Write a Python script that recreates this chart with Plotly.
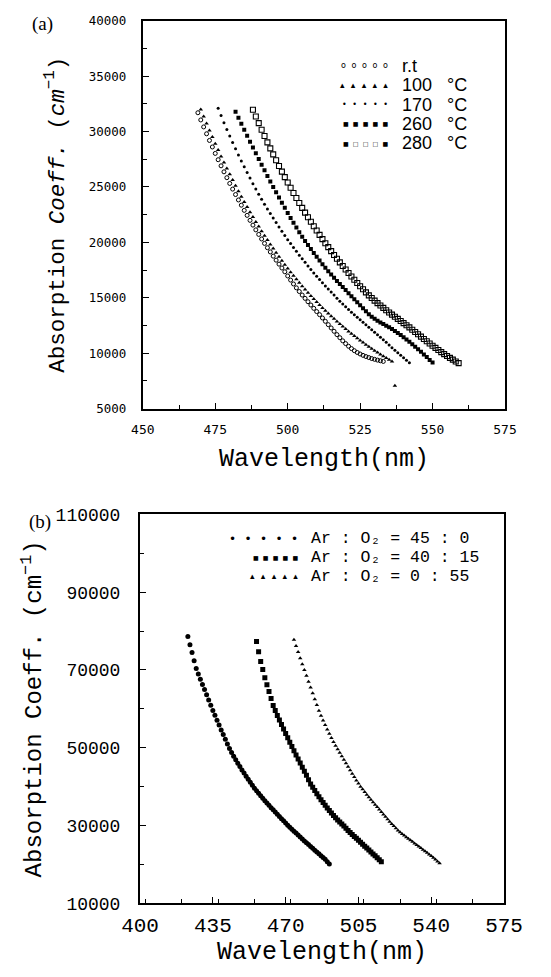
import plotly.graph_objects as go

# ---------------- Panel (a): annealing temperature ----------------
rt_x = list(range(469, 534))
rt_y = [31700, 31050, 30420, 29800, 29200, 28610, 28030, 27460, 26910, 26370, 25840, 25320,
        24810, 24320, 23830, 23360, 22890, 22440, 21990, 21560, 21130, 20720, 20310, 19910,
        19520, 19140, 18760, 18400, 18040, 17690, 17350, 16970, 16600, 16250, 15900, 15570,
        15250, 14950, 14650, 14350, 14050, 13760, 13480, 13180, 12880, 12580, 12280, 11980,
        11680, 11400, 11120, 10870, 10630, 10420, 10230, 10070, 9930, 9810, 9700, 9610,
        9520, 9450, 9380, 9320, 9260]

t100_x = list(range(470, 537)) + [537]
t100_y = [32000, 31350, 30720, 30100, 29500, 28910, 28330, 27760, 27210, 26670, 26140, 25620,
          25110, 24610, 24130, 23650, 23190, 22730, 22290, 21850, 21430, 21010, 20610, 20210,
          19820, 19440, 19060, 18700, 18340, 17990, 17650, 17310, 16990, 16670, 16360, 16050,
          15750, 15460, 15170, 14890, 14620, 14350, 14090, 13830, 13580, 13340, 13100, 12860,
          12630, 12410, 12190, 11970, 11760, 11550, 11350, 11150, 10960, 10770, 10590, 10410,
          10230, 10060, 9890, 9730, 9570, 9410, 9250, 7060]

t170_x = list(range(476, 543))
t170_y = [32100, 31440, 30800, 30190, 29600, 29020, 28450, 27890, 27350, 26820, 26300, 25800,
          25300, 24820, 24350, 23890, 23450, 23020, 22600, 22200, 21800, 21400, 21000, 20620,
          20250, 19900, 19550, 19200, 18850, 18520, 18200, 17870, 17550, 17250, 16950, 16650,
          16350, 16070, 15800, 15520, 15250, 14970, 14700, 14450, 14200, 13950, 13700, 13470,
          13250, 13020, 12800, 12570, 12350, 12120, 11900, 11670, 11450, 11220, 11000, 10750,
          10500, 10270, 10050, 9820, 9600, 9370, 9150]

t260_x = list(range(482, 551))
t260_y = [31800, 31250, 30700, 30160, 29620, 29090, 28560, 28040, 27520, 27010, 26500, 26000,
          25500, 25010, 24530, 24050, 23580, 23120, 22660, 22210, 21770, 21340, 20910, 20510,
          20120, 19760, 19400, 19050, 18700, 18360, 18030, 17710, 17400, 17100, 16800, 16520,
          16240, 15970, 15700, 15420, 15150, 14870, 14600, 14320, 14050, 13780, 13520, 13300,
          13100, 12940, 12780, 12640, 12490, 12340, 12180, 12010, 11830, 11640, 11450, 11240,
          11030, 10810, 10590, 10360, 10130, 9890, 9650, 9400, 9160]

t280_x = list(range(488, 560))
t280_y = [31970, 31360, 30760, 30170, 29600, 29030, 28480, 27940, 27410, 26890, 26390, 25890,
          25410, 24930, 24460, 24000, 23560, 23120, 22690, 22270, 21860, 21460, 21070, 20680,
          20300, 19930, 19570, 19210, 18870, 18530, 18200, 17870, 17550, 17240, 16930, 16630,
          16340, 16050, 15770, 15490, 15220, 14980, 14750, 14520, 14300, 14090, 13880, 13680,
          13480, 13290, 13100, 12910, 12720, 12520, 12330, 12120, 11920, 11710, 11500, 11290,
          11080, 10880, 10680, 10480, 10290, 10100, 9920, 9750, 9580, 9420, 9260, 9110]

a_names = ["r.t", "100\u00a0\u00a0\u00a0\u00b0C", "170\u00a0\u00a0\u00a0\u00b0C",
           "260\u00a0\u00a0\u00a0\u00b0C", "280\u00a0\u00a0\u00a0\u00b0C"]
a_glyphs = ["ooooo", "\u25b4\u25b4\u25b4\u25b4\u25b4", "\u2022\u2022\u2022\u2022\u2022",
            "\u25a0\u25a0\u25a0\u25a0\u25a0", "\u25a0\u25a1\u25a1\u25a1\u25a0"]
a_glyph_sizes = [8, 9, 8, 6, 6]
a_xticks = [450, 475, 500, 525, 550, 575]
a_yticks = [5000, 10000, 15000, 20000, 25000, 30000, 35000, 40000]

# ---------------- Panel (b): Ar : O2 ratio ----------------
s1_x = list(range(423, 492))
s1_y = [78600, 76500, 74500, 72400, 70400, 69000, 67600, 66300, 65000, 63650, 62300, 60950,
        59600, 58350, 57100, 55850, 54600, 53400, 52200, 51000, 49800, 48800, 47800, 46900,
        46000, 45150, 44300, 43500, 42700, 41900, 41100, 40350, 39600, 38950, 38300, 37650,
        37000, 36400, 35800, 35200, 34600, 34050, 33500, 32900, 32300, 31750, 31200, 30650,
        30100, 29570, 29050, 28550, 28050, 27550, 27050, 26550, 26050, 25570, 25100, 24620,
        24150, 23670, 23200, 22720, 22250, 21770, 21300, 20700, 20100]

s2_x = list(range(456, 517))
s2_y = [77300, 74700, 72200, 70100, 68000, 66200, 64450, 62650, 60900, 59600, 58300, 57150,
        56000, 54850, 53700, 52550, 51400, 50300, 49200, 48150, 47100, 46050, 45000, 43950,
        42900, 41800, 40700, 39850, 39000, 38200, 37400, 36650, 35900, 35200, 34500, 33850,
        33200, 32600, 32000, 31450, 30900, 30370, 29850, 29300, 28750, 28220, 27700, 27200,
        26700, 26200, 25700, 25200, 24700, 24200, 23700, 23200, 22700, 22200, 21700, 21200,
        20700]

s3_x = list(range(474, 545))
s3_y = [77800, 76200, 74600, 73050, 71500, 70000, 68500, 67000, 65500, 64000, 62500, 61000,
        59500, 58250, 57000, 55850, 54700, 53600, 52500, 51500, 50500, 49600, 48700, 47800,
        46900, 46000, 45100, 44200, 43300, 42450, 41600, 40800, 40000, 39300, 38600, 37920,
        37250, 36620, 36000, 35370, 34750, 34120, 33500, 32870, 32250, 31620, 31000, 30420,
        29850, 29300, 28750, 28300, 27850, 27420, 27000, 26600, 26200, 25800, 25400, 25000,
        24600, 24200, 23800, 23400, 23000, 22570, 22150, 21700, 21250, 20770, 20300]

b_names = ["Ar : O\u2082 = 45 : 0", "Ar : O\u2082 = 40 : 15", "Ar : O\u2082 = 0 : 55"]
b_glyphs = ["\u2022\u2022\u2022\u2022\u2022", "\u25a0\u25a0\u25a0\u25a0\u25a0",
            "\u25b4\u25b4\u25b4\u25b4\u25b4"]
b_glyph_sizes = [12, 6, 9]
b_xticks = [400, 435, 470, 505, 540, 575]
b_yticks = [10000, 30000, 50000, 70000, 90000, 110000]

W, H = 551, 977
def px_x(p):
    return p / W
def px_y(p):
    return 1 - p / H

fig = go.Figure()

a_series = [(rt_x, rt_y, "circle-open", 4, 1.0),
            (t100_x, t100_y, "triangle-up", 4, 0),
            (t170_x, t170_y, "circle", 3, 0),
            (t260_x, t260_y, "square", 4, 0),
            (t280_x, t280_y, "square-open", 5, 1.1)]
for (xs, ys, sym, sz, lw), nm in zip(a_series, a_names):
    fig.add_trace(go.Scatter(x=xs, y=ys, mode="markers", name=nm, xaxis="x", yaxis="y",
                             showlegend=False,
                             marker=dict(symbol=sym, size=sz, color="black",
                                         line=dict(color="black", width=lw))))

b_series = [(s1_x, s1_y, "circle", 5), (s2_x, s2_y, "square", 5), (s3_x, s3_y, "triangle-up", 4)]
for (xs, ys, sym, sz), nm in zip(b_series, b_names):
    fig.add_trace(go.Scatter(x=xs, y=ys, mode="markers", name=nm, xaxis="x2", yaxis="y2",
                             showlegend=False,
                             marker=dict(symbol=sym, size=sz, color="black",
                                         line=dict(width=0))))

axis_common = dict(showline=True, linecolor="black", linewidth=2, mirror=True,
                   showgrid=False, zeroline=False, ticks="inside", tickcolor="black",
                   ticklen=6, tickwidth=1, tickformat="d")

annotations = [
    dict(text="(a)", x=px_x(12), y=px_y(2), xref="paper", yref="paper",
         xanchor="left", yanchor="top", showarrow=False,
         font=dict(family="Liberation Serif", size=19, color="black")),
    dict(text="(b)", x=px_x(9), y=px_y(510), xref="paper", yref="paper",
         xanchor="left", yanchor="top", showarrow=False,
         font=dict(family="Liberation Serif", size=19, color="black")),
]

SEP = "\u2002\u2009"

# legend of panel (a): row of glyphs + label
a_rows = [58, 78, 97.5, 117, 137]
for ry, nm, g, gs in zip(a_rows, a_names, a_glyphs, a_glyph_sizes):
    annotations.append(dict(text=SEP.join(g), x=px_x(398), y=px_y(ry),
                            xref="paper", yref="paper", xanchor="right", yanchor="middle",
                            showarrow=False,
                            font=dict(family="DejaVu Sans", size=gs, color="black")))
    annotations.append(dict(text=nm, x=px_x(409), y=px_y(ry), xref="paper", yref="paper",
                            xanchor="left", yanchor="middle", showarrow=False,
                            font=dict(family="Liberation Sans", size=18, color="black")))

# legend of panel (b)
b_rows = [541, 560, 579]
for ry, nm, g, gs in zip(b_rows, b_names, b_glyphs, b_glyph_sizes):
    annotations.append(dict(text=SEP.join(g), x=px_x(302), y=px_y(ry),
                            xref="paper", yref="paper", xanchor="right", yanchor="middle",
                            showarrow=False,
                            font=dict(family="DejaVu Sans", size=gs, color="black")))
    annotations.append(dict(text=nm, x=px_x(311), y=px_y(ry), xref="paper", yref="paper",
                            xanchor="left", yanchor="middle", showarrow=False,
                            font=dict(family="Liberation Mono", size=16.5, color="black")))

fig.update_layout(
    width=W, height=H, margin=dict(l=0, r=0, t=0, b=0),
    paper_bgcolor="white", plot_bgcolor="white", showlegend=False,
    xaxis=dict(domain=[px_x(133), px_x(522)], anchor="y", range=[450, 575],
               tickvals=a_xticks, ticklabelstandoff=8,
               minor=dict(ticks="inside", ticklen=4, dtick=12.5, tickcolor="black"),
               tickfont=dict(family="DejaVu Sans Mono", size=13, color="black"),
               title=dict(text="Wavelength(nm)", standoff=12,
                          font=dict(family="Liberation Mono", size=25, color="black")),
               **axis_common),
    yaxis=dict(domain=[px_y(408), px_y(12)], anchor="x", range=[5000, 40000],
               tickvals=a_yticks, ticklabelstandoff=12,
               minor=dict(ticks="inside", ticklen=4, dtick=2500, tickcolor="black"),
               tickfont=dict(family="DejaVu Sans Mono", size=12.5, color="black"),
               title=dict(text="Absorption <i>Coeff.</i> (<i>cm</i><sup>\u22121</sup>)",
                          standoff=18,
                          font=dict(family="Liberation Mono", size=22.5, color="black")),
               **axis_common),
    xaxis2=dict(domain=[px_x(130), px_x(521)], anchor="y2", range=[400, 575],
                tickvals=b_xticks, ticklabelstandoff=1,
                minor=dict(ticks="inside", ticklen=4, dtick=17.5, tickcolor="black"),
                tickfont=dict(family="Liberation Mono", size=21, color="black"),
                title=dict(text="Wavelength(nm)", standoff=2,
                           font=dict(family="Liberation Mono", size=25, color="black")),
                **axis_common),
    yaxis2=dict(domain=[px_y(913), px_y(516)], anchor="x2", range=[10000, 110000],
                tickvals=b_yticks, ticklabelstandoff=14,
                minor=dict(ticks="inside", ticklen=4, dtick=10000, tickcolor="black"),
                tickfont=dict(family="Liberation Mono", size=18, color="black"),
                title=dict(text="Absorption Coeff. (cm<sup>\u22121</sup>)", standoff=7,
                           font=dict(family="Liberation Mono", size=24, color="black")),
                **axis_common),
    annotations=annotations,
)

fig.write_html("out.html")
